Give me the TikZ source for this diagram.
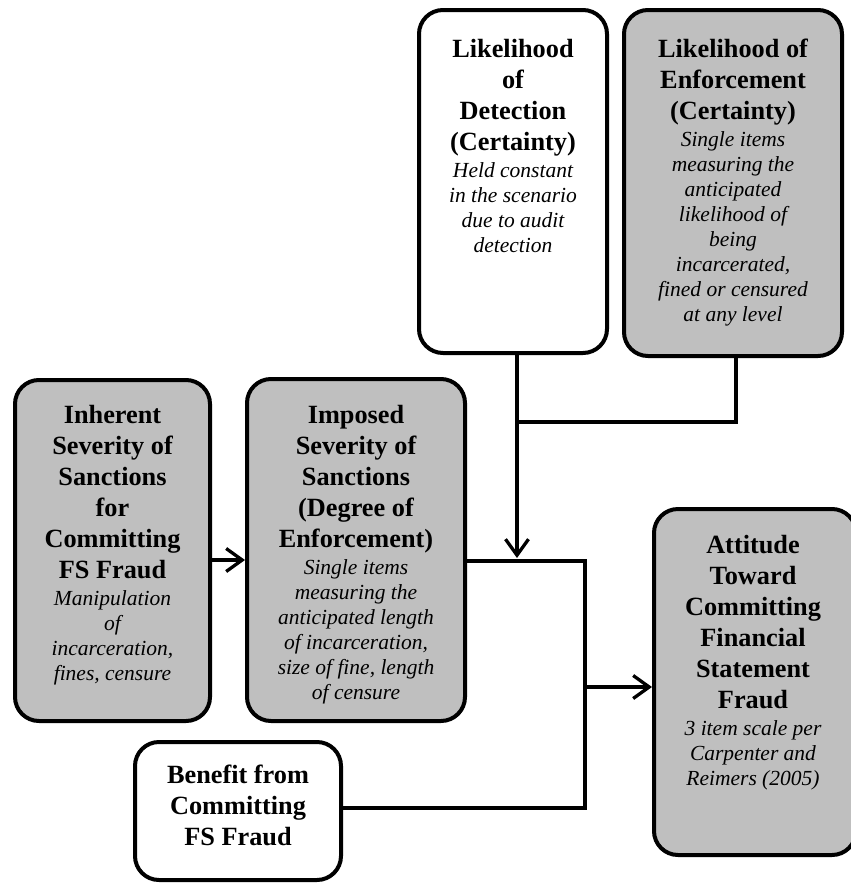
\documentclass[tikz,border=0pt]{standalone}
\usepackage{fontspec}
\setmainfont{Liberation Serif}
\usetikzlibrary{arrows.meta,calc}
\definecolor{boxgray}{RGB}{191,191,191}
\newcommand{\mytitle}{\fontsize{26.3}{31}\selectfont\bfseries\spaceskip=0pt\xspaceskip=0pt\relax}
\newcommand{\mydesc}{\par\vspace{2pt}\fontsize{21.5}{25}\selectfont\mdseries\itshape\spaceskip=0pt\xspaceskip=0pt\relax}
\tikzset{
  box/.style={draw=black, line width=4pt, rounded corners=24pt, inner sep=0pt},
  graybox/.style={box, fill=boxgray},
  whitebox/.style={box, fill=white},
  txt/.style={align=flush center, inner sep=0pt, anchor=north, text width=230pt},
  conn/.style={line width=3.3pt},
  arr/.style={conn, -{Straight Barb[length=16pt, width=23pt, line width=3.3pt]}},
}
\begin{document}
\begin{tikzpicture}[x=1pt, y=-1pt]
\useasboundingbox (0,0) rectangle (851,884);
% boxes
\node[whitebox, minimum width=188pt, minimum height=343pt] (det) at (513,181.5) {};
\node[graybox, minimum width=218pt, minimum height=346pt] (enf) at (733,183) {};
\node[graybox, minimum width=195pt, minimum height=341pt] (inh) at (112.5,550.5) {};
\node[graybox, minimum width=218pt, minimum height=342pt] (imp) at (356,550) {};
\node[graybox, minimum width=202pt, minimum height=346pt] (att) at (755,682) {};
\node[whitebox, minimum width=206pt, minimum height=138pt] (ben) at (238,811) {};
% texts
\node[txt] (detT) at (513,39) {\mytitle Likelihood\\of\\Detection\\(Certainty)\mydesc Held constant\\in the scenario\\due to audit\\detection\par};
\node[txt] (enfT) at (733,39) {\mytitle Likelihood of\\Enforcement\\(Certainty)\mydesc Single items\\measuring the\\anticipated\\likelihood of\\being\\incarcerated,\\fined or censured\\at any level\par};
\node[txt] (inhT) at (112.5,405) {\mytitle Inherent\\Severity of\\Sanctions\\for\\Committing\\FS Fraud\mydesc Manipulation\\of\\incarceration,\\fines, censure\par};
\node[txt] (impT) at (356,405) {\mytitle Imposed\\Severity of\\Sanctions\\(Degree of\\Enforcement)\mydesc Single items\\measuring the\\anticipated length\\of incarceration,\\size of fine, length\\of censure\par};
\node[txt] (attT) at (753,535) {\mytitle Attitude\\Toward\\Committing\\Financial\\Statement\\Fraud\mydesc 3 item scale per\\Carpenter and\\Reimers (2005)\par};
\node[txt] (benT) at (238,765) {\mytitle Benefit from\\Committing\\FS Fraud\par};
% junction points
\coordinate (jTop) at (517,422);
\coordinate (jMid) at (517,558);
\coordinate (eX) at (736,0);
\coordinate (jR) at (585,561);
\coordinate (jIn) at (585,687);
\coordinate (jBen) at (585,808);
\coordinate (aY) at (0,560);
% connectors
\draw[conn] (det.south -| jTop) -- (jTop);
\draw[arr] (enf.south -| eX) |- (jTop) -- (jMid);
\draw[conn] (imp.east |- jR) -- (jR) -- (jBen) -- (ben.east |- jBen);
\draw[arr] (jIn) -- (att.west |- jIn);
\draw[arr] (inh.east |- aY) -- (imp.west |- aY);
\end{tikzpicture}
\end{document}
